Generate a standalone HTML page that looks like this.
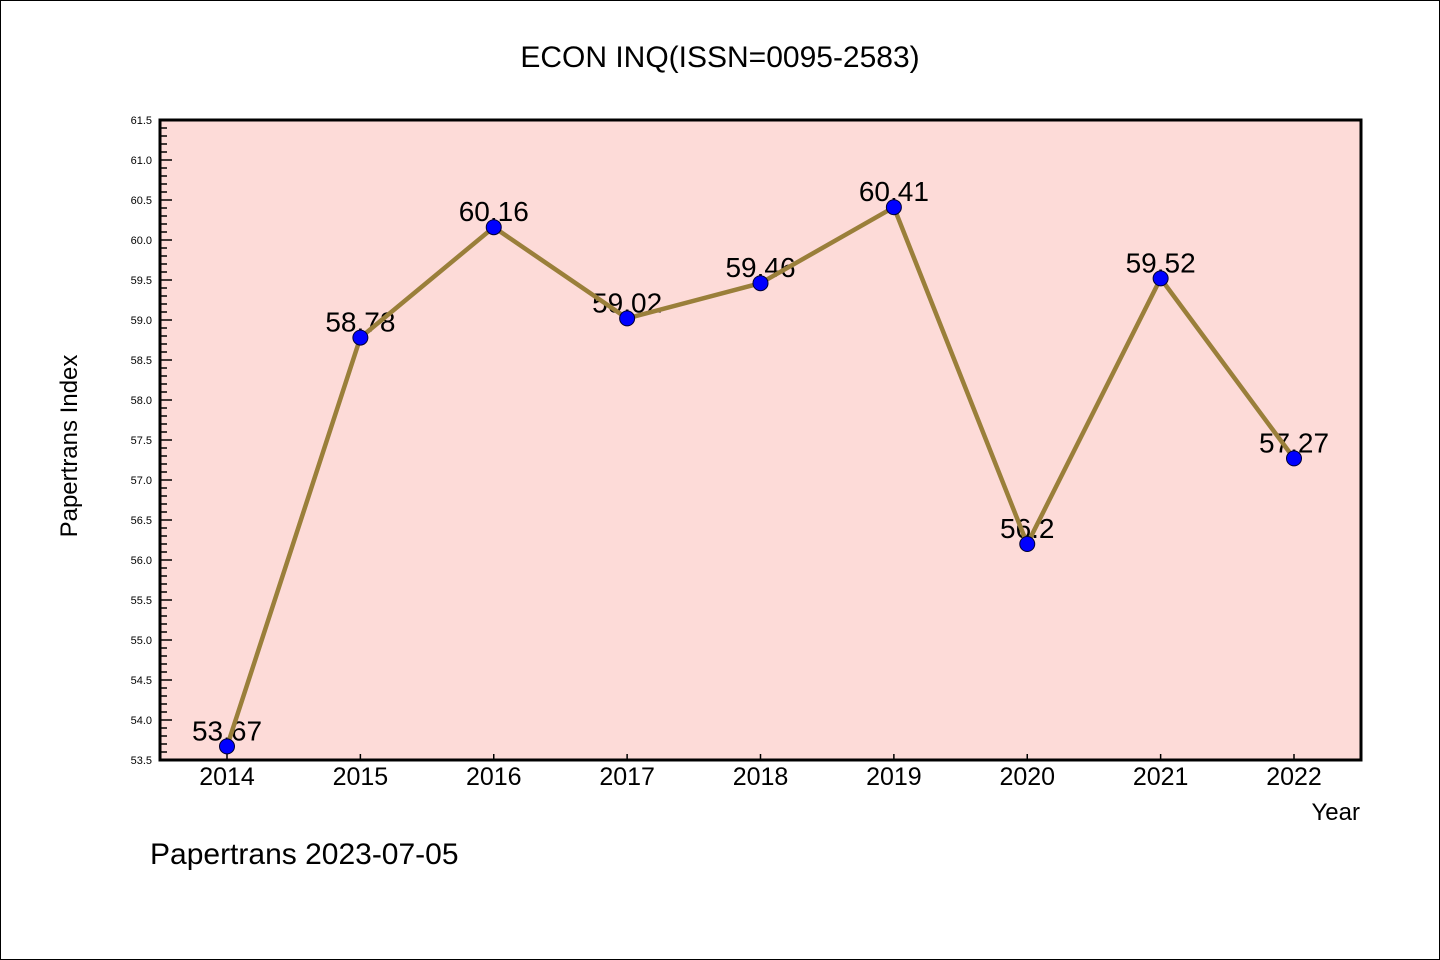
<!DOCTYPE html>
<html><head><meta charset="utf-8"><style>
html,body{margin:0;padding:0;background:#fff}
svg{display:block}
text{font-family:"Liberation Sans","WenQuanYi Zen Hei",sans-serif;fill:#000}
</style></head><body>
<svg id="chart" width="1440" height="960" viewBox="0 0 1440 960">
<rect x="0.5" y="0.5" width="1439" height="959" fill="#fff" stroke="#000" stroke-width="1"/>
<text x="720" y="67" text-anchor="middle" font-size="30" font-family="Liberation Mono, monospace">ECON INQ(ISSN=0095-2583)</text>
<rect x="160" y="120" width="1201" height="640" fill="#fddbd8"/>
<g id="yticks"></g><g id="xticks"></g>
<g id="labels"></g>
<polyline id="line" fill="none" stroke="#9a7f3a" stroke-width="4.5" stroke-linejoin="round"/>
<g id="points"></g>
<rect x="160" y="120" width="1201" height="640" fill="none" stroke="#000" stroke-width="3"/>
<text x="77" y="446" text-anchor="middle" font-size="24" font-family="Liberation Mono, monospace" transform="rotate(-90 77 446)">Papertrans Index</text>
<text x="1360" y="820" text-anchor="end" font-size="24" font-family="Liberation Mono, monospace">Year</text>
<text x="150" y="864" font-size="30" font-family="Liberation Mono, monospace">Papertrans 2023-07-05</text>
</svg>
<script>
const years = ["2014","2015","2016","2017","2018","2019","2020","2021","2022"];
const values = [53.67,58.78,60.16,59.02,59.46,60.41,56.2,59.52,57.27];
const valueLabels = ["53.67","58.78","60.16","59.02","59.46","60.41","56.2","59.52","57.27"];
const yMin = 53.5, yMax = 61.5;
const NS="http://www.w3.org/2000/svg";
const L=160,R=1361,T=120,B=760;
const y=v=>B-(v-yMin)/(yMax-yMin)*(B-T);
const x=i=>227+i*(1294-227)/(years.length-1);
function mk(tag,attrs,parent){const e=document.createElementNS(NS,tag);for(const k in attrs)e.setAttribute(k,attrs[k]);parent.appendChild(e);return e;}
const yt=document.getElementById('yticks');
for(let k=0;k<=Math.round((yMax-yMin)*10);k++){
  const v=yMin+k*0.1, yy=y(v), major=k%5===0;
  const t=mk('line',{x1:L,x2:L+(major?12:7),y1:yy,y2:yy,stroke:'#000','stroke-width':1.5},yt);
  
  
  if(major){const tx=mk('text',{x:152,y:yy+4,'text-anchor':'end','font-size':11},yt);tx.textContent=v.toFixed(1);
    
    }
}
const xt=document.getElementById('xticks');
years.forEach((yr,i)=>{
  const t=mk('line',{x1:x(i),x2:x(i),y1:B,y2:B-6,stroke:'#000','stroke-width':1.5},xt);
  
  
  const tx=mk('text',{x:x(i),y:785,'text-anchor':'middle','font-size':25},xt);tx.textContent=yr;
  
  
});
const lab=document.getElementById('labels');
values.forEach((v,i)=>{
  const tx=mk('text',{x:x(i),y:y(v)-6,'text-anchor':'middle','font-size':28},lab);tx.textContent=valueLabels[i];
  
  
});
document.getElementById('line').setAttribute('points',values.map((v,i)=>x(i)+','+y(v)).join(' '));
const pts=document.getElementById('points');
values.forEach((v,i)=>{
  const c=mk('circle',{cx:x(i),cy:y(v),r:7.5,fill:'#0000ff',stroke:'#000033','stroke-width':1},pts);
  
  
});
</script>
</body></html>
